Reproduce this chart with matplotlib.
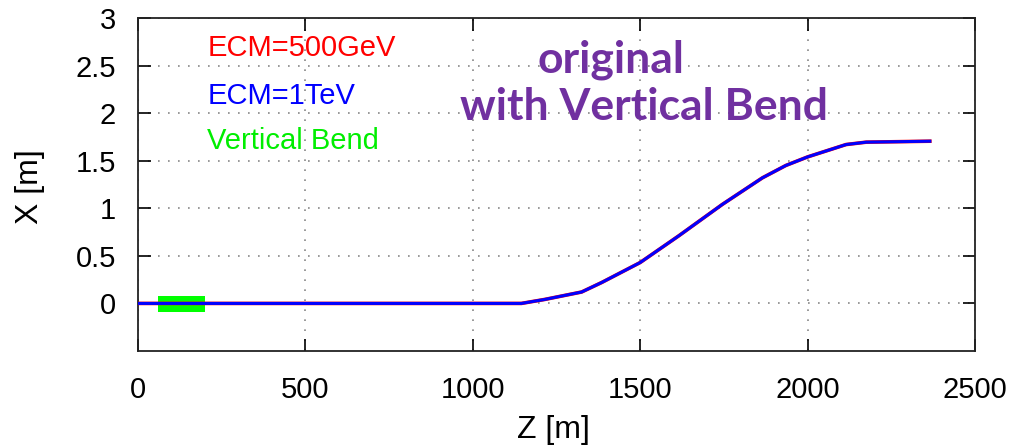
import matplotlib
matplotlib.use("Agg")
import matplotlib.pyplot as plt

# Data
z_500 = [0, 200, 500, 800, 1000, 1085, 1145, 1215, 1325, 1385, 1500, 1615, 1745, 1865, 1935, 2000, 2115, 2175, 2365]
x_500 = [0, 0, 0, 0, 0, 0, 0, 0.042, 0.12, 0.22, 0.43, 0.71, 1.04, 1.32, 1.45, 1.54, 1.67, 1.695, 1.705]
z_1tev = [0, 200, 500, 800, 1000, 1085, 1145, 1215, 1325, 1385, 1500, 1615, 1745, 1865, 1935, 2000, 2115, 2175, 2365]
x_1tev = [0, 0, 0, 0, 0, 0, 0, 0.042, 0.12, 0.22, 0.43, 0.71, 1.04, 1.32, 1.45, 1.54, 1.67, 1.695, 1.705]
bend_z = [60, 200]
bend_lo = [-0.09, -0.09]
bend_hi = [0.08, 0.08]

xticks = [0, 500, 1000, 1500, 2000, 2500]
yticks = [0, 0.5, 1, 1.5, 2, 2.5, 3]
ytick_labels = ["0", "0.5", "1", "1.5", "2", "2.5", "3"]

plt.rcParams['font.family'] = ['Liberation Sans', 'DejaVu Sans']

fig = plt.figure(figsize=(10.14, 4.47), dpi=100)
ax = fig.add_axes([138/1014, 96/447, (975-138)/1014, (351-18)/447])

ax.fill_between(bend_z, bend_lo, bend_hi, color='#00ff00', lw=0, zorder=2)
ax.plot(z_500, x_500, color='#ff0000', lw=2.6, zorder=3, solid_joinstyle='round')
ax.plot(z_1tev, x_1tev, color='#0000ff', lw=2.2, zorder=4, solid_joinstyle='round')

ax.set_xlim(0, 2500)
ax.set_ylim(-0.5, 3)
ax.set_xticks(xticks)
ax.set_yticks(yticks)
ax.set_yticklabels(ytick_labels)
ax.tick_params(direction='in', length=9, width=1.2, labelsize=21,
               top=True, right=True, pad=16, colors='black')
ax.tick_params(axis='x', pad=18)
for s in ax.spines.values():
    s.set_linewidth(1.3)
    s.set_color('#222222')
ax.grid(True, color='#888888', linestyle=(0, (1, 5)), lw=1.2)

fig.text(553/1014, 1 - 430/447, "Z [m]", fontsize=23, ha='center', va='center')
fig.text(30/1014, 1 - 187/447, "X [m]", fontsize=23, ha='center', va='center', rotation=90)

ax.text(207, 2.6, "ECM=500GeV", color='#ff0000', fontsize=21, ha='left', va='baseline')
ax.text(207, 2.1, "ECM=1TeV", color='#0000ff', fontsize=21, ha='left', va='baseline')
ax.text(207, 1.62, "Vertical Bend", color='#00ee00', fontsize=21, ha='left', va='baseline')

fig.text(611/1014, 1 - 72/447, "original", color='#7030a0', fontsize=32,
         fontweight='bold', family=['Lato', 'DejaVu Sans'], ha='center', va='baseline')
fig.text(644/1014, 1 - 120/447, "with Vertical Bend", color='#7030a0', fontsize=32,
         fontweight='bold', family=['Lato', 'DejaVu Sans'], ha='center', va='baseline')

fig.savefig("out.png", dpi=100)
